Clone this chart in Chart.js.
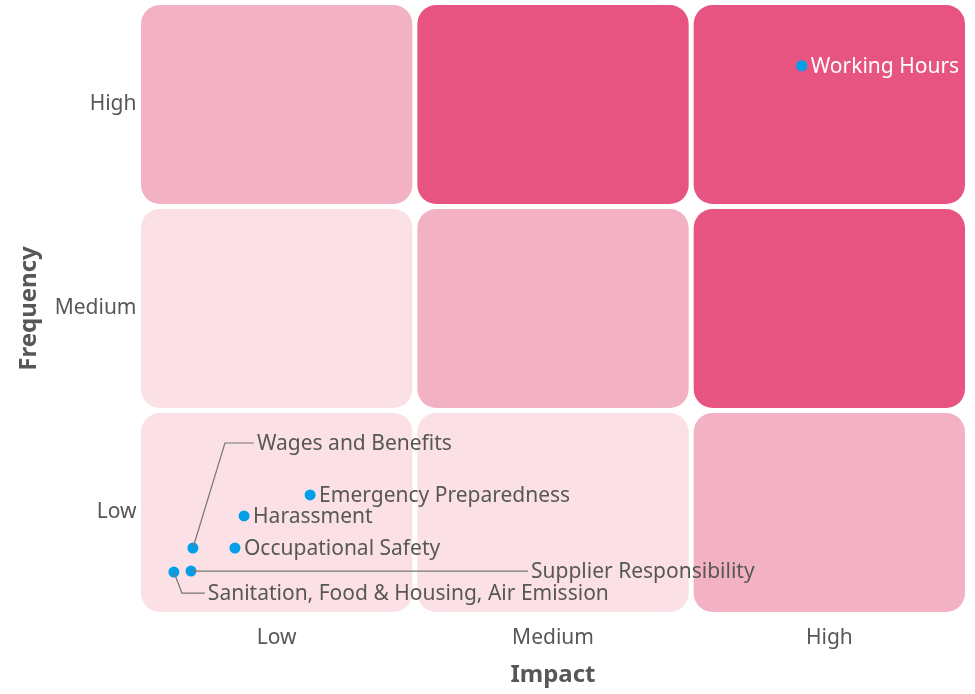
<!DOCTYPE html>
<html>
<head>
<meta charset="utf-8">
<script src="https://cdn.jsdelivr.net/npm/chart.js@4"></script>
<style>
  html, body { margin: 0; padding: 0; background: #ffffff; }
  canvas { display: block; }
</style>
</head>
<body>
<canvas id="matrix" width="975" height="694"></canvas>
<script>
// Axis categories (Low → High on both axes)
const levels = ['Low', 'Medium', 'High'];

// Cell shading for each frequency row (Low, Medium, High) across impact columns
const riskGrid = [
  ['light', 'light', 'medium'],
  ['light', 'medium', 'dark'],
  ['medium', 'dark', 'dark']
];

// Issues plotted in the matrix
const issueNames = [
  'Working Hours',
  'Emergency Preparedness',
  'Harassment',
  'Occupational Safety',
  'Wages and Benefits',
  'Supplier Responsibility',
  'Sanitation, Food & Housing, Air Emission'
];
const impactValues    = [2.40, 0.621, 0.382, 0.349, 0.197, 0.190, 0.128];
const frequencyValues = [2.69, 0.586, 0.483, 0.326, 0.326, 0.213, 0.208];

// Shading palette
const shade = { light: '#fbe1e6', medium: '#f3b2c3', dark: '#e85481' };

// Label placement relative to each point (pixels); elbow = leader-line bend
const labelPlacement = {
  'Wages and Benefits': { elbow: [32, -105], text: [64, -105] },
  'Supplier Responsibility': { elbow: null, text: [340, 0] },
  'Sanitation, Food & Housing, Air Emission': { elbow: [8, 21], text: [34, 21] }
};

const FONT = '"Noto Sans", "DejaVu Sans", sans-serif';
const TEXT = '#575757';

// Rounded, colour-coded cells behind the points
const cellsPlugin = {
  id: 'cells',
  beforeDatasetsDraw(chart) {
    const { ctx, scales: { x, y } } = chart;
    const gap = 2.5, r = 19;
    ctx.save();
    riskGrid.forEach((row, fi) => {
      row.forEach((lvl, ii) => {
        const x0 = x.getPixelForValue(ii) + gap;
        const x1 = x.getPixelForValue(ii + 1) - gap;
        const y0 = y.getPixelForValue(fi + 1) + gap;
        const y1 = y.getPixelForValue(fi) - gap;
        ctx.fillStyle = shade[lvl];
        ctx.beginPath();
        ctx.roundRect(x0, y0, x1 - x0, y1 - y0, r);
        ctx.fill();
      });
    });
    ctx.restore();
  }
};

// Issue names beside the points, with leader lines where needed
const labelsPlugin = {
  id: 'pointLabels',
  afterDatasetsDraw(chart) {
    const { ctx } = chart;
    const meta = chart.getDatasetMeta(0);
    ctx.save();
    ctx.font = '21px ' + FONT;
    ctx.textBaseline = 'middle';
    ctx.textAlign = 'left';
    meta.data.forEach((pt, i) => {
      const name = issueNames[i];
      const place = labelPlacement[name];
      let tx, ty;
      if (place) {
        ctx.strokeStyle = '#777777';
        ctx.lineWidth = 1.2;
        ctx.beginPath();
        ctx.moveTo(pt.x, pt.y);
        if (place.elbow) ctx.lineTo(pt.x + place.elbow[0], pt.y + place.elbow[1]);
        tx = pt.x + place.text[0];
        ty = pt.y + place.text[1];
        ctx.lineTo(tx - 3, ty);
        ctx.stroke();
      } else {
        tx = pt.x + 9;
        ty = pt.y;
      }
      ctx.fillStyle = frequencyValues[i] > 2 && impactValues[i] > 1 ? '#ffffff' : TEXT;
      ctx.fillText(name, tx, ty + 1);
    });
    ctx.restore();
  }
};

const tickCentres = s => { s.ticks = [0.5, 1.5, 2.5].map(v => ({ value: v })); };
const tickLabel = v => levels[Math.floor(v)];
const noEdgePadding = s => { s.paddingTop = 0; s.paddingBottom = 0; s.paddingLeft = 0; s.paddingRight = 0; };

new Chart(document.getElementById('matrix'), {
  type: 'scatter',
  data: {
    datasets: [{
      data: impactValues.map((v, i) => ({ x: v, y: frequencyValues[i] })),
      backgroundColor: '#009fe8',
      borderWidth: 0,
      pointRadius: 5.5,
      pointHoverRadius: 5.5
    }]
  },
  options: {
    responsive: false,
    animation: false,
    devicePixelRatio: 1,
    layout: { autoPadding: false, padding: { left: 11, right: 7.5, top: 2.5, bottom: 0 } },
    plugins: { legend: { display: false }, tooltip: { enabled: false } },
    scales: {
      x: {
        type: 'linear', min: 0, max: 3,
        afterBuildTicks: tickCentres,
        afterFit: s => { noEdgePadding(s); s.height = 79.5; },
        grid: { display: false, drawTicks: false },
        border: { display: false },
        ticks: { callback: tickLabel, padding: 10.5, color: TEXT, font: { family: FONT, size: 21 } },
        title: { display: true, text: 'Impact', color: TEXT, font: { family: FONT, size: 24, weight: 'bold' } }
      },
      y: {
        type: 'linear', min: 0, max: 3,
        afterBuildTicks: tickCentres,
        afterFit: s => { noEdgePadding(s); s.width = 127.5; },
        grid: { display: false, drawTicks: false },
        border: { display: false },
        ticks: { callback: tickLabel, padding: 2, color: TEXT, font: { family: FONT, size: 21 } },
        title: { display: true, text: 'Frequency', color: TEXT, font: { family: FONT, size: 24, weight: 'bold' } }
      }
    }
  },
  plugins: [cellsPlugin, labelsPlugin]
});
</script>
</body>
</html>
